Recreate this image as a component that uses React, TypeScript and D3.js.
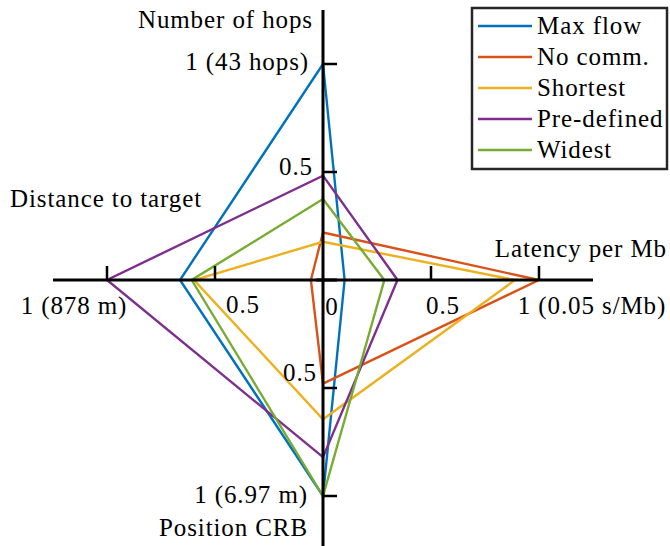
import React from 'react';
import * as d3 from 'd3';

// Axes (clockwise from top)
const axisNames = ["Number of hops", "Latency per Mb", "Position CRB", "Distance to target"];
const tickValues = [0.5, 1];
const hopsTickLabels = ["0.5", "1 (43 hops)"];
const latencyTickLabels = ["0.5", "1 (0.05 s/Mb)"];
const crbTickLabels = ["0.5", "1 (6.97 m)"];
const distTickLabels = ["0.5", "1 (878 m)"];

// Series: [hops, latency, CRB, distance], normalized
const seriesNames = ["Max flow", "No comm.", "Shortest", "Pre-defined", "Widest"];
const seriesColors = ["#0072BD", "#D95319", "#EDB120", "#7E2F8E", "#77AC30"];
const maxFlow = [1, 0.1, 1, 0.662];
const noComm = [0.22, 1, 0.48, 0.056];
const shortest = [0.177, 0.889, 0.645, 0.597];
const preDefined = [0.483, 0.345, 0.82, 1];
const widest = [0.375, 0.284, 1, 0.608];
const seriesValues = [maxFlow, noComm, shortest, preDefined, widest];

const W = 670;
const H = 546;
const cx = 323;
const cy = 280;
const R = 216;
const FONT = "'Liberation Serif', 'DejaVu Serif', serif";
const FS = 25;
const LS = 0.9;

export default function App() {
  const r = d3.scaleLinear().domain([0, 1]).range([0, R]);
  const angle = d3.scaleLinear().domain([0, 4]).range([0, 2 * Math.PI]);
  const line = d3
    .lineRadial<number>()
    .angle((_, i) => angle(i))
    .radius((d) => r(d))
    .curve(d3.curveLinearClosed);

  const ext = r(1.25);
  const tickLen = 14;

  const textStyle: React.CSSProperties = {
    fontFamily: FONT,
    fontSize: FS,
    letterSpacing: LS,
  };

  const txt = (s: string, x: number, y: number, anchor: string, key: string) => (
    <text key={key} x={x} y={y} textAnchor={anchor} style={textStyle} fill="#000">
      {s}
    </text>
  );

  const labels: JSX.Element[] = [];
  labels.push(txt(axisNames[0], cx - 10, cy - r(1.25) + 18, 'end', 'n0'));
  labels.push(txt(hopsTickLabels[0], cx - 10, cy - r(0.5) + 3, 'end', 'h0'));
  labels.push(txt(hopsTickLabels[1], cx - 14, cy - r(1) + 6, 'end', 'h1'));
  labels.push(txt(axisNames[1], W - 3, cy - 23, 'end', 'n1'));
  labels.push(txt(latencyTickLabels[0], cx + r(0.5) + 12, cy + 34, 'middle', 'l0'));
  labels.push(txt(latencyTickLabels[1], cx + r(1) + 53, cy + 34, 'middle', 'l1'));
  labels.push(txt('0', cx + 9, cy + 35, 'middle', 'zero'));
  labels.push(txt(crbTickLabels[0], cx - 6, cy + r(0.5) - 7, 'end', 'c0'));
  labels.push(txt(crbTickLabels[1], cx - 15, cy + r(1) + 7, 'end', 'c1'));
  labels.push(txt(axisNames[2], cx - 15, cy + r(1) + 40, 'end', 'n2'));
  labels.push(txt(distTickLabels[0], cx - r(0.5) + 28, cy + 33, 'middle', 'd0'));
  labels.push(txt(distTickLabels[1], cx - r(1) - 33, cy + 34, 'middle', 'd1'));
  labels.push(txt(axisNames[3], 10, cy - 73, 'start', 'n3'));

  const legX = 472;
  const legY = 8;
  const legW = 195;
  const legH = 161;
  const rowY = d3.scaleLinear().domain([0, 4]).range([legY + 18, legY + 142]);

  return (
    <svg
      width={W}
      height={H}
      style={{ position: 'absolute', left: 0, top: 0, background: '#fff' }}
    >
      <rect x={0} y={0} width={W} height={H} fill="#fff" />
      <g transform={`translate(${cx},${cy})`}>
        {seriesValues.map((vals, i) => (
          <path
            key={seriesNames[i]}
            d={line(vals) || ''}
            fill="none"
            stroke={seriesColors[i]}
            strokeWidth={2.4}
            strokeLinejoin="miter"
          />
        ))}
      </g>
      <g stroke="#000" strokeWidth={3}>
        <line x1={cx - ext} y1={cy} x2={cx + ext} y2={cy} />
        <line x1={cx} y1={cy - ext} x2={cx} y2={cy + ext} />
        {tickValues.map((v) => (
          <g key={v} strokeWidth={2.5}>
            <line x1={cx} y1={cy - r(v)} x2={cx + tickLen} y2={cy - r(v)} />
            <line x1={cx} y1={cy + r(v)} x2={cx + tickLen} y2={cy + r(v)} />
            <line x1={cx + r(v)} y1={cy} x2={cx + r(v)} y2={cy - tickLen} />
            <line x1={cx - r(v)} y1={cy} x2={cx - r(v)} y2={cy - tickLen} />
          </g>
        ))}
        <line x1={cx - tickLen * 0.5} y1={cy} x2={cx + tickLen} y2={cy} strokeWidth={3} />
      </g>
      {labels}
      <g>
        <rect
          x={legX}
          y={legY}
          width={legW}
          height={legH}
          fill="#fff"
          stroke="#262626"
          strokeWidth={2.5}
        />
        {seriesNames.map((name, i) => (
          <g key={name}>
            <line
              x1={legX + 6}
              x2={legX + 60}
              y1={rowY(i)}
              y2={rowY(i)}
              stroke={seriesColors[i]}
              strokeWidth={2.4}
            />
            <text x={legX + 65} y={rowY(i) + 7.5} style={textStyle} fill="#000">
              {name}
            </text>
          </g>
        ))}
      </g>
    </svg>
  );
}
